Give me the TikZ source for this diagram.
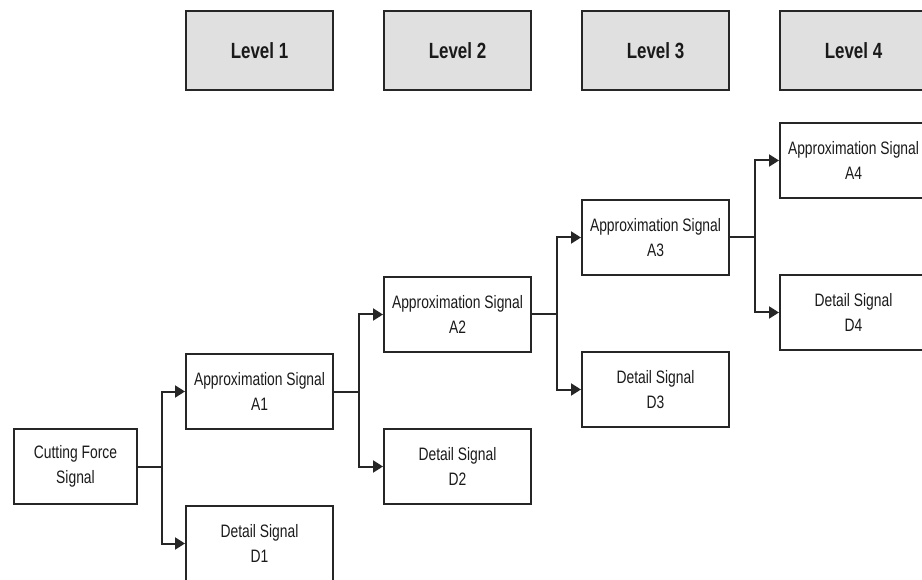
\documentclass[tikz,border=0pt]{standalone}
\usepackage{fontspec}
\setmainfont{Liberation Sans}[FakeStretch=0.77]
\usepackage{tikz}
\usetikzlibrary{arrows.meta,positioning}
\definecolor{boxline}{HTML}{262626}
\definecolor{lvlgray}{HTML}{E0E0E0}
\definecolor{txtgray}{HTML}{1A1A1A}

\begin{document}
\begin{tikzpicture}[
  x=1pt,y=-1pt,
  font=\fontsize{18}{25}\selectfont,
  box/.style={draw=boxline,line width=2pt,align=center,text=txtgray,minimum width=147pt,minimum height=75pt,inner sep=2pt},
  lvl/.style={box,fill=lvlgray,minimum height=79pt,font=\fontsize{22}{24}\selectfont\bfseries},
  lnk/.style={line width=2pt,draw=boxline},
  arr/.style={lnk,-{Triangle[length=10pt,width=12pt]}}
]
\useasboundingbox (0,0) rectangle (922,580);
% input signal
\node[box,minimum width=123pt] (cfs) at (75.5,466.5) {Cutting Force\\Signal};
% level 1
\node[box] (a1) at (259.5,391.5) {Approximation Signal\\A1};
\node[box,below=75pt of a1] (d1) {Detail Signal\\D1};
% level 2
\node[box,anchor=south west] (a2) at ([xshift=49pt]a1.north east) {Approximation Signal\\A2};
\node[box,below=75pt of a2] (d2) {Detail Signal\\D2};
% level 3
\node[box,anchor=south west] (a3) at ([xshift=49pt]a2.north east) {Approximation Signal\\A3};
\node[box,below=75pt of a3] (d3) {Detail Signal\\D3};
% level 4
\node[box,anchor=south west] (a4) at ([xshift=49pt]a3.north east) {Approximation Signal\\A4};
\node[box,below=75pt of a4] (d4) {Detail Signal\\D4};
% level headers
\foreach \i in {1,...,4}
  \node[lvl] (lv\i) at (a\i.north |- 0,50.5) {Level \i};

% decomposition
\draw[lnk] (cfs.east) -- ++(24,0) coordinate (j0);
\draw[arr] (j0) |- (a1.west);
\draw[arr] (j0) |- (d1.west);
\foreach \i/\n in {1/2,2/3,3/4}{
  \draw[lnk] (a\i.east) -- ++(24.5,0) coordinate (j\i);
  \draw[arr] (j\i) |- (a\n.west);
  \draw[arr] (j\i) |- (d\n.west);
}
\end{tikzpicture}
\end{document}
